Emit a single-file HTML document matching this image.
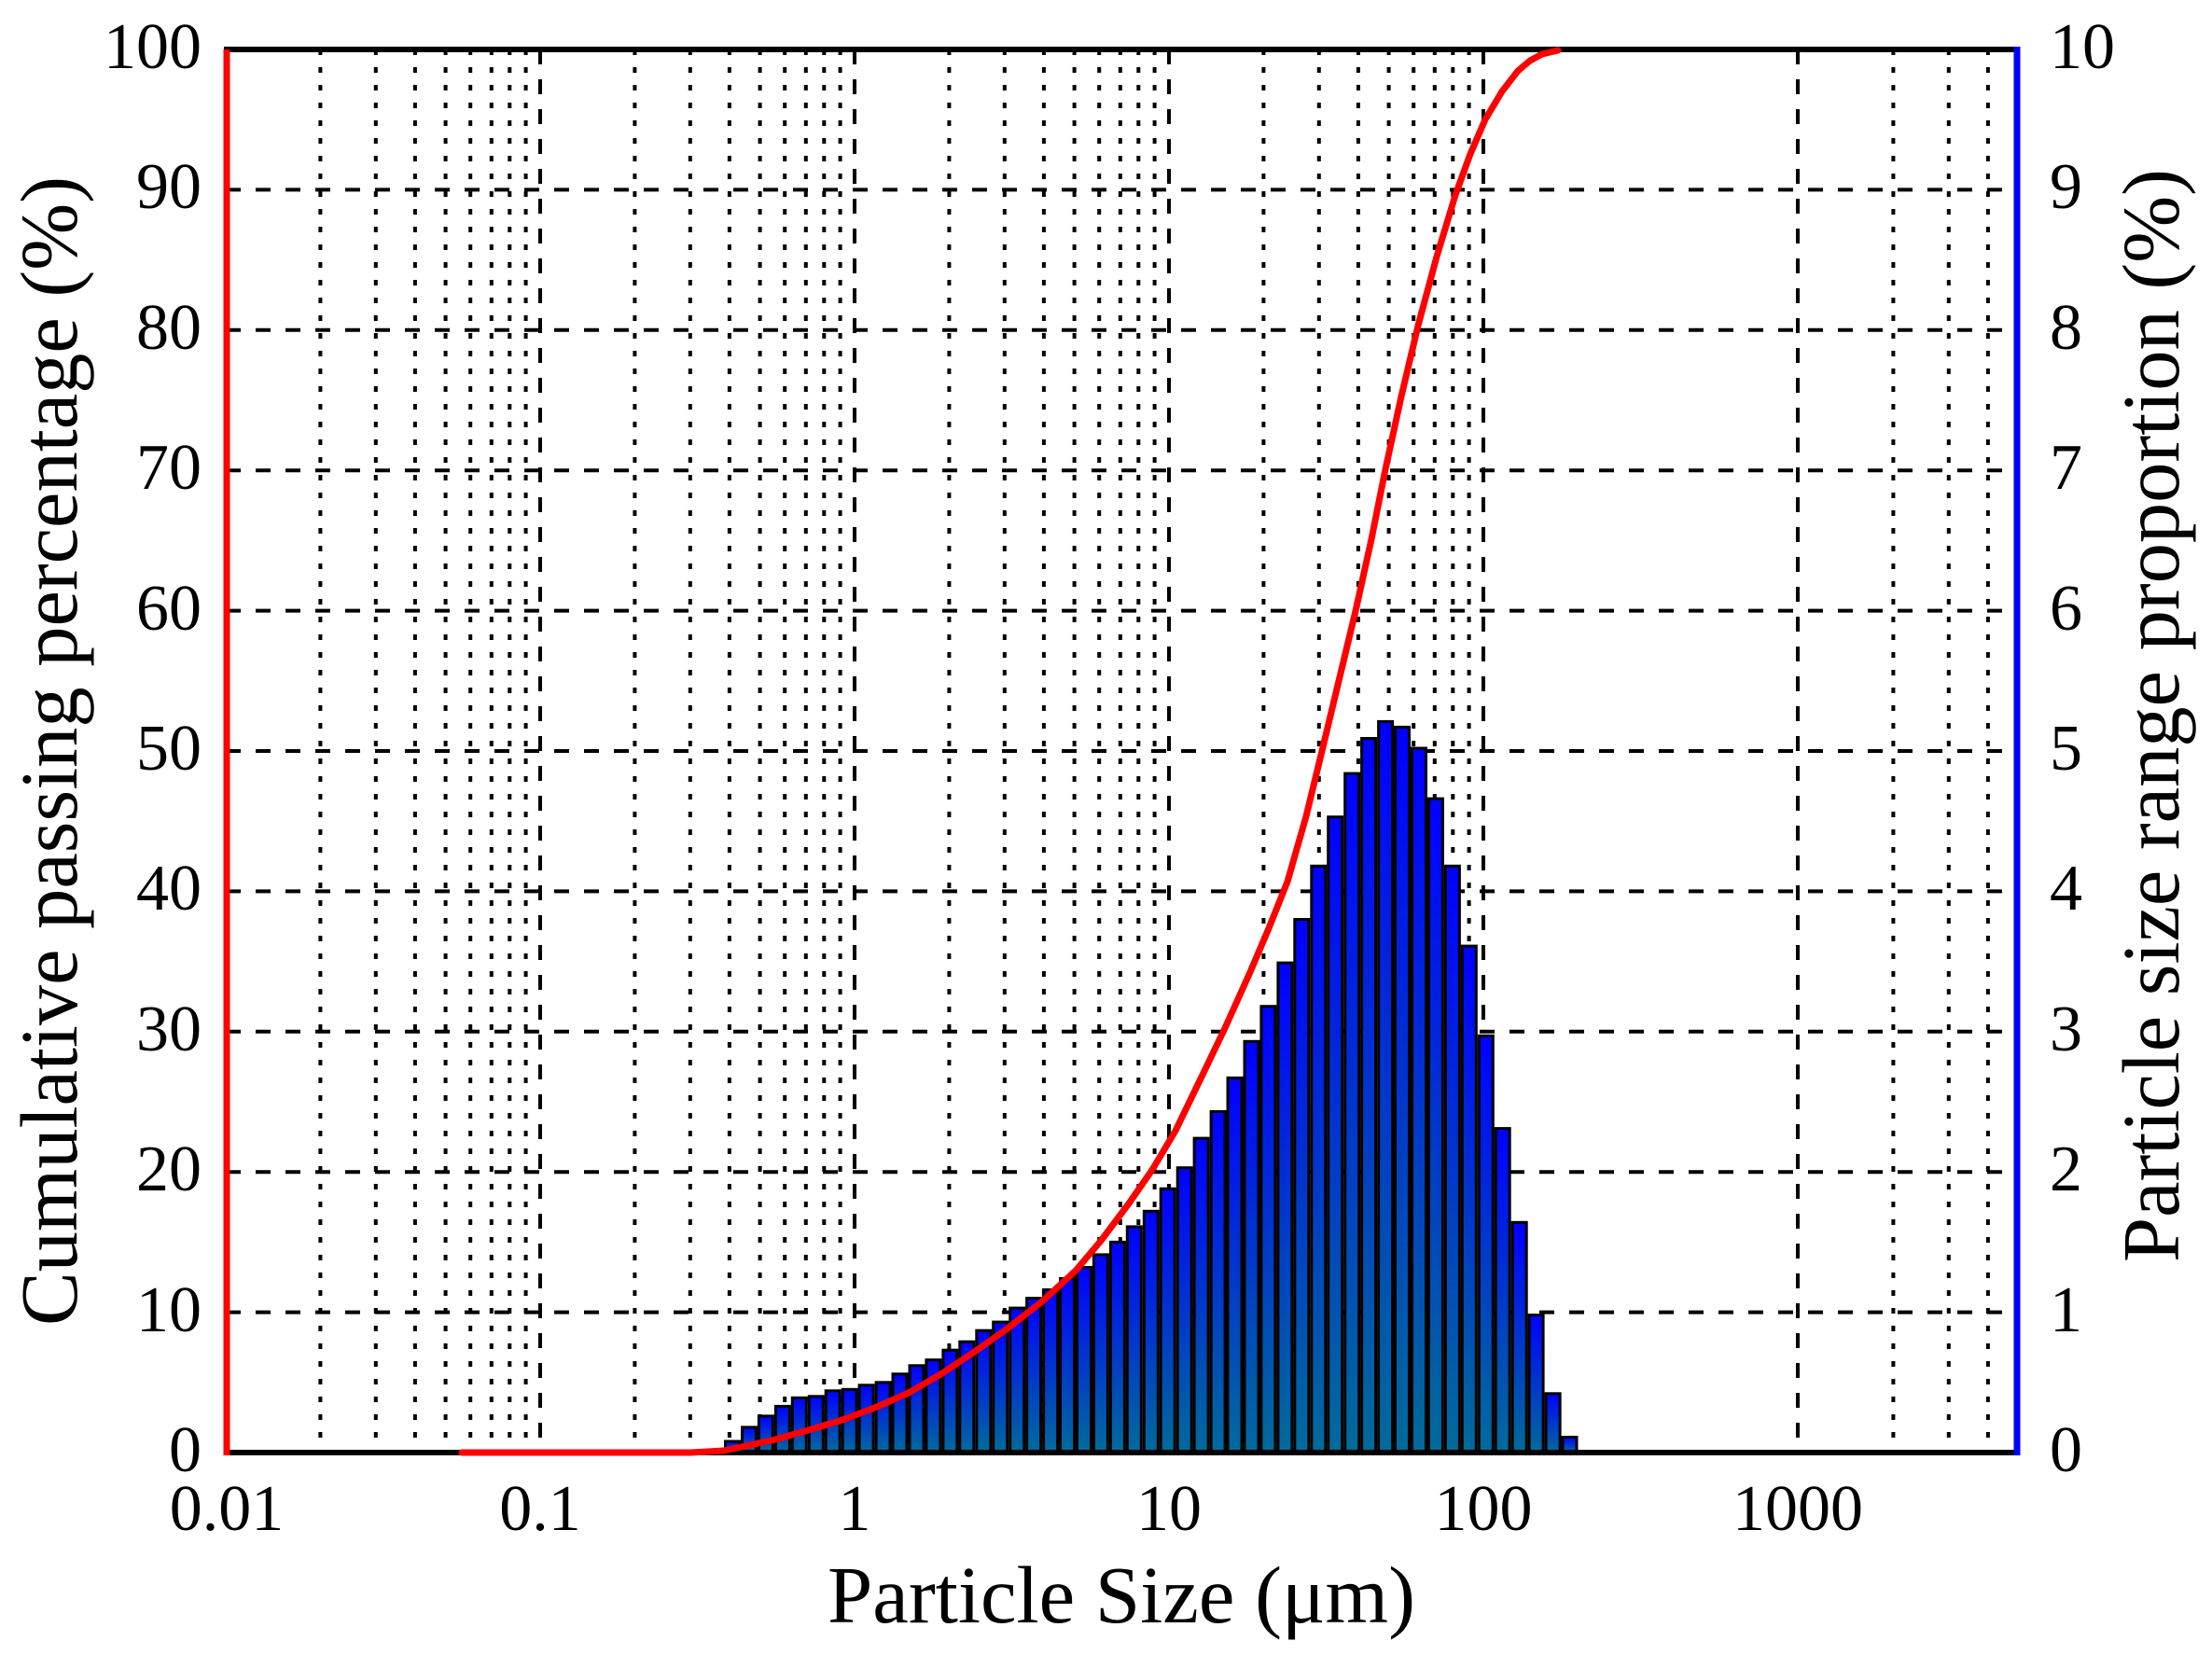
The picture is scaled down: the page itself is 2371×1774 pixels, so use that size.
<!DOCTYPE html>
<html><head><meta charset="utf-8"><style>
html,body{margin:0;padding:0;background:#fff;}
svg{display:block;}
text{font-family:"Liberation Serif","Times New Roman",serif;fill:#000;}
</style></head><body>
<svg width="2371" height="1774" viewBox="0 0 2371 1774" xmlns="http://www.w3.org/2000/svg">
<defs>
<linearGradient id="bg" x1="0" y1="0" x2="0" y2="1">
<stop offset="0" stop-color="#0000ff"/><stop offset="1" stop-color="#006b9a"/>
</linearGradient>
</defs>
<rect width="2371" height="1774" fill="#fff"/>
<g stroke="#000" stroke-width="4" fill="none">
<g stroke-dasharray="6 13">
<path d="M343.4 53V1557M402.8 53V1557M444.9 53V1557M477.6 53V1557M504.2 53V1557M526.8 53V1557M546.3 53V1557M563.6 53V1557
M680.4 53V1557M739.8 53V1557M781.9 53V1557M814.6 53V1557M841.2 53V1557M863.8 53V1557M883.3 53V1557M900.6 53V1557
M1017.4 53V1557M1076.8 53V1557M1118.9 53V1557M1151.6 53V1557M1178.2 53V1557M1200.8 53V1557M1220.3 53V1557M1237.6 53V1557
M1354.4 53V1557M1413.8 53V1557M1455.9 53V1557M1488.6 53V1557M1515.2 53V1557M1537.8 53V1557M1557.3 53V1557M1574.6 53V1557
M2029.4 53V1557M2088.8 53V1557M2130.9 53V1557"/>
</g>
<g stroke-dasharray="16 16">
<path d="M579 53V1557M916 53V1557M1253 53V1557M1590 53V1557M1927 53V1557"/>
<path d="M242 1406.6H2162M242 1256.2H2162M242 1105.8H2162M242 955.4H2162M242 805H2162M242 654.6H2162M242 504.2H2162M242 353.8H2162M242 203.4H2162"/>
</g>
</g>
<g fill="url(#bg)" stroke="#000" stroke-width="3">
<rect x="777.5" y="1545.0" width="15" height="12.0"/>
<rect x="795.5" y="1529.9" width="15" height="27.1"/>
<rect x="813.4" y="1517.9" width="15" height="39.1"/>
<rect x="831.4" y="1507.4" width="15" height="49.6"/>
<rect x="849.3" y="1498.3" width="15" height="58.7"/>
<rect x="867.3" y="1496.8" width="15" height="60.2"/>
<rect x="885.2" y="1490.8" width="15" height="66.2"/>
<rect x="903.2" y="1489.3" width="15" height="67.7"/>
<rect x="921.1" y="1484.8" width="15" height="72.2"/>
<rect x="939.1" y="1481.8" width="15" height="75.2"/>
<rect x="957.0" y="1472.8" width="15" height="84.2"/>
<rect x="975.0" y="1463.8" width="15" height="93.2"/>
<rect x="992.9" y="1457.7" width="15" height="99.3"/>
<rect x="1010.9" y="1447.2" width="15" height="109.8"/>
<rect x="1028.8" y="1438.2" width="15" height="118.8"/>
<rect x="1046.8" y="1426.2" width="15" height="130.8"/>
<rect x="1064.7" y="1417.1" width="15" height="139.9"/>
<rect x="1082.7" y="1402.1" width="15" height="154.9"/>
<rect x="1100.6" y="1391.6" width="15" height="165.4"/>
<rect x="1118.6" y="1382.5" width="15" height="174.5"/>
<rect x="1136.5" y="1370.5" width="15" height="186.5"/>
<rect x="1154.5" y="1358.5" width="15" height="198.5"/>
<rect x="1172.4" y="1344.9" width="15" height="212.1"/>
<rect x="1190.4" y="1331.4" width="15" height="225.6"/>
<rect x="1208.3" y="1314.9" width="15" height="242.1"/>
<rect x="1226.3" y="1298.3" width="15" height="258.7"/>
<rect x="1244.2" y="1274.2" width="15" height="282.8"/>
<rect x="1262.2" y="1251.7" width="15" height="305.3"/>
<rect x="1280.1" y="1220.1" width="15" height="336.9"/>
<rect x="1298.1" y="1191.5" width="15" height="365.5"/>
<rect x="1316.0" y="1155.4" width="15" height="401.6"/>
<rect x="1334.0" y="1116.3" width="15" height="440.7"/>
<rect x="1351.9" y="1078.7" width="15" height="478.3"/>
<rect x="1369.9" y="1032.1" width="15" height="524.9"/>
<rect x="1387.8" y="985.5" width="15" height="571.5"/>
<rect x="1405.8" y="928.3" width="15" height="628.7"/>
<rect x="1423.7" y="875.7" width="15" height="681.3"/>
<rect x="1441.7" y="829.1" width="15" height="727.9"/>
<rect x="1459.6" y="791.5" width="15" height="765.5"/>
<rect x="1477.6" y="773.4" width="15" height="783.6"/>
<rect x="1495.5" y="779.4" width="15" height="777.6"/>
<rect x="1513.5" y="802.0" width="15" height="755.0"/>
<rect x="1531.4" y="856.1" width="15" height="700.9"/>
<rect x="1549.4" y="928.3" width="15" height="628.7"/>
<rect x="1567.3" y="1014.1" width="15" height="542.9"/>
<rect x="1585.3" y="1110.3" width="15" height="446.7"/>
<rect x="1603.2" y="1209.6" width="15" height="347.4"/>
<rect x="1621.2" y="1310.3" width="15" height="246.7"/>
<rect x="1639.1" y="1409.6" width="15" height="147.4"/>
<rect x="1657.1" y="1493.8" width="15" height="63.2"/>
<rect x="1675.0" y="1540.5" width="15" height="16.5"/>
</g>
<line x1="240" y1="1557" x2="2164" y2="1557" stroke="#000" stroke-width="6"/>
<line x1="240" y1="53" x2="2164" y2="53" stroke="#000" stroke-width="6"/>
<polyline fill="none" stroke="#ff0000" stroke-width="7" stroke-linecap="round" stroke-linejoin="round"
points="495,1557 740,1557 776,1555 831,1543 870,1532 903,1522 940,1508 974,1493 1010,1472 1046,1448 1080,1424 1117,1395 1153,1362 1180,1330 1210,1290 1235,1254 1260,1212 1290,1150 1313,1102 1340,1042 1360,995 1380,945 1400,875 1417,805 1435,730 1453,655 1470,578 1485,503 1502,425 1520,349 1540,275 1560,209 1576,165 1592,128 1610,98 1627,76 1640,65 1653,58 1670,54"/>
<line x1="243" y1="53" x2="243" y2="1560" stroke="#ff0000" stroke-width="7"/>
<line x1="2162" y1="50" x2="2162" y2="1560" stroke="#0000ff" stroke-width="7"/>
<g font-size="70" text-anchor="end">
<text x="216" y="73">100</text><text x="216" y="223">90</text><text x="216" y="374">80</text>
<text x="216" y="524">70</text><text x="216" y="675">60</text><text x="216" y="825">50</text>
<text x="216" y="975">40</text><text x="216" y="1126">30</text><text x="216" y="1276">20</text>
<text x="216" y="1427">10</text><text x="216" y="1577">0</text>
</g>
<g font-size="70" text-anchor="start">
<text x="2197" y="73">10</text><text x="2197" y="223">9</text><text x="2197" y="374">8</text>
<text x="2197" y="524">7</text><text x="2197" y="675">6</text><text x="2197" y="825">5</text>
<text x="2197" y="975">4</text><text x="2197" y="1126">3</text><text x="2197" y="1276">2</text>
<text x="2197" y="1427">1</text><text x="2197" y="1577">0</text>
</g>
<g font-size="70" text-anchor="middle">
<text x="243" y="1640">0.01</text><text x="579" y="1640">0.1</text><text x="916" y="1640">1</text>
<text x="1253" y="1640">10</text><text x="1590" y="1640">100</text><text x="1927" y="1640">1000</text>
</g>
<text x="1202" y="1739" font-size="87" text-anchor="middle" textLength="630" lengthAdjust="spacingAndGlyphs">Particle Size (μm)</text>
<text transform="translate(82,805) rotate(-90)" font-size="87" text-anchor="middle" textLength="1232" lengthAdjust="spacingAndGlyphs">Cumulative passing percentage (%)</text>
<text transform="translate(2335,767) rotate(-90)" font-size="87" text-anchor="middle" textLength="1172" lengthAdjust="spacingAndGlyphs">Particle size range proportion (%)</text>
</svg>
</body></html>
